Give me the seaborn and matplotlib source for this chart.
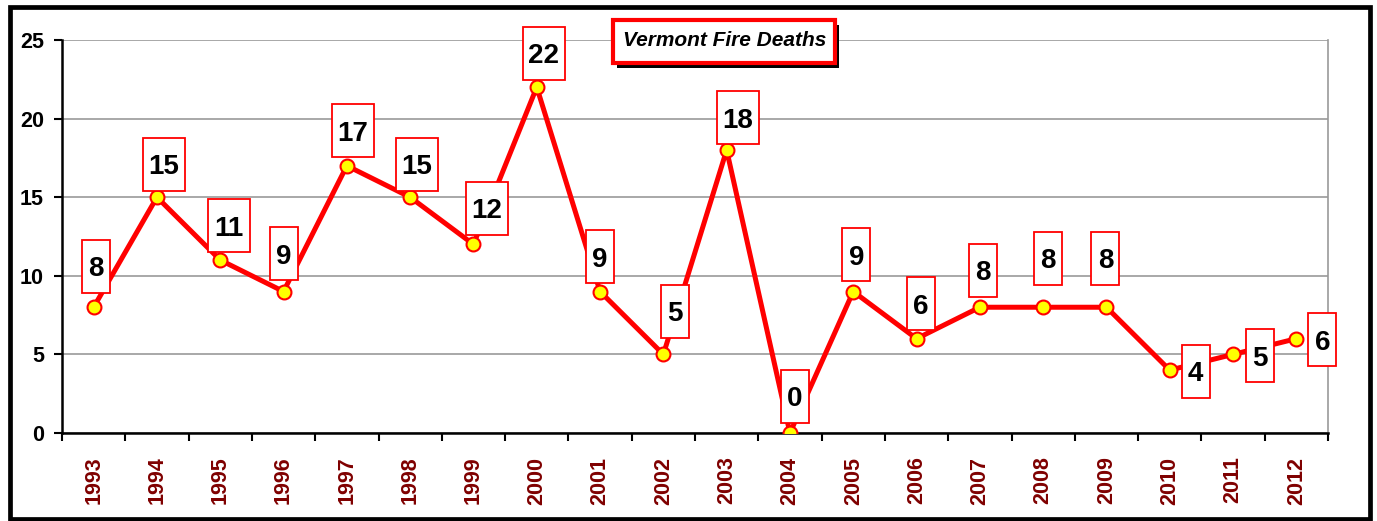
import matplotlib
matplotlib.use("Agg")
import matplotlib.pyplot as plt
import seaborn as sns
import numpy as np
from matplotlib.patches import Rectangle
from matplotlib.transforms import Affine2D, ScaledTranslation

years = ["1993", "1994", "1995", "1996", "1997", "1998", "1999", "2000", "2001", "2002",
         "2003", "2004", "2005", "2006", "2007", "2008", "2009", "2010", "2011", "2012"]
deaths = [8, 15, 11, 9, 17, 15, 12, 22, 9, 5, 18, 0, 9, 6, 8, 8, 8, 4, 5, 6]
# label offsets (pixels) relative to each point
label_dx = [2, 7, 9, 0, 6, 7, 13.5, 7, 0, 11.5, 11, 5, 3, 4, 3, 5, -1, 26, 27, 26]
label_dy = [41, 33, 34.5, 38, 35, 33, 36, 34, 35, 43, 32.5, 36.5, 37, 35, 37, 49, 49, -1, -1.5, -1]

sns.set_theme(style="white")
plt.rcParams['font.family'] = ['Liberation Sans', 'DejaVu Sans']

fig = plt.figure(figsize=(13.77, 5.21), dpi=100)
fig.patch.set_facecolor("white")
ax = fig.add_axes([62/1377, 1-433/521, (1328-62)/1377, (433-40)/521])

x = np.arange(len(years))
sns.lineplot(x=x, y=deaths, ax=ax, color="#ff0000", linewidth=3.6,
             marker="o", markersize=10, markerfacecolor="#ffff00",
             markeredgecolor="#ff0000", markeredgewidth=1.5, zorder=3)

ax.set_xlim(-0.5, len(years) - 0.5)
ax.set_ylim(0, 25)
ax.set_yticks([0, 5, 10, 15, 20, 25])
ax.set_yticklabels(["0", "5", "10", "15", "20", "25"], fontsize=15.5, fontweight="bold", color="black")
ax.set_xticks(np.arange(-0.5, len(years)), minor=False)
ax.set_xticklabels([])
ax.set_xticks(x, minor=True)
ax.set_xticklabels(years, minor=True, rotation=90, fontsize=15.5, fontweight="bold",
                   color="#7f0000")
ax.tick_params(axis="x", which="major", direction="out", length=6, width=1.5, color="black", bottom=True)
ax.tick_params(axis="x", which="minor", length=0, pad=17)
ax.tick_params(axis="y", direction="out", length=6, width=1.5, color="black", left=True, pad=7)

ax.yaxis.grid(True, color="#999999", linewidth=1.2)
ax.xaxis.grid(False)
ax.set_axisbelow(True)
for side in ["left", "bottom"]:
    ax.spines[side].set_color("black")
    ax.spines[side].set_linewidth(1.8)
ax.spines["top"].set_visible(False)
ax.spines["right"].set_color("#999999")
ax.spines["right"].set_linewidth(1.2)
ax.set_xlabel("")
ax.set_ylabel("")

box_h = 53
for xi, yi, dx, dy in zip(x, deaths, label_dx, label_dy):
    txt = str(yi)
    box_w = 28 if len(txt) == 1 else 42
    tr = Affine2D().translate(dx - box_w / 2, dy - box_h / 2) + ScaledTranslation(xi, yi, ax.transData)
    rect = Rectangle((0, 0), box_w, box_h, transform=tr, facecolor="white",
                     edgecolor="#ff0000", linewidth=1.3, zorder=5, clip_on=False)
    ax.add_artist(rect)
    ax.annotate(txt, (xi, yi), xytext=(dx, dy), textcoords="offset pixels",
                ha="center", va="center_baseline", fontsize=20, fontweight="bold", color="black",
                zorder=6, annotation_clip=False)

# title box with shadow
fig.patches.append(Rectangle((617/1377, 1-68/521), 222/1377, 43/521, transform=fig.transFigure,
                             facecolor="black", edgecolor="none", zorder=8))
fig.patches.append(Rectangle((613/1377, 1-63/521), 222/1377, 43/521, transform=fig.transFigure,
                             facecolor="white", edgecolor="#ff0000", linewidth=3, zorder=9))
fig.text(725/1377, 1-41/521, "Vermont Fire Deaths", ha="center", va="center", fontsize=15,
         fontweight="bold", fontstyle="italic", color="black", zorder=10)

# outer border
fig.patches.append(Rectangle((10/1377, 1-519/521), 1360/1377, 512.5/521, transform=fig.transFigure,
                             facecolor="none", edgecolor="black", linewidth=3.4, zorder=20))

fig.savefig("out.png", dpi=100, facecolor="white")
